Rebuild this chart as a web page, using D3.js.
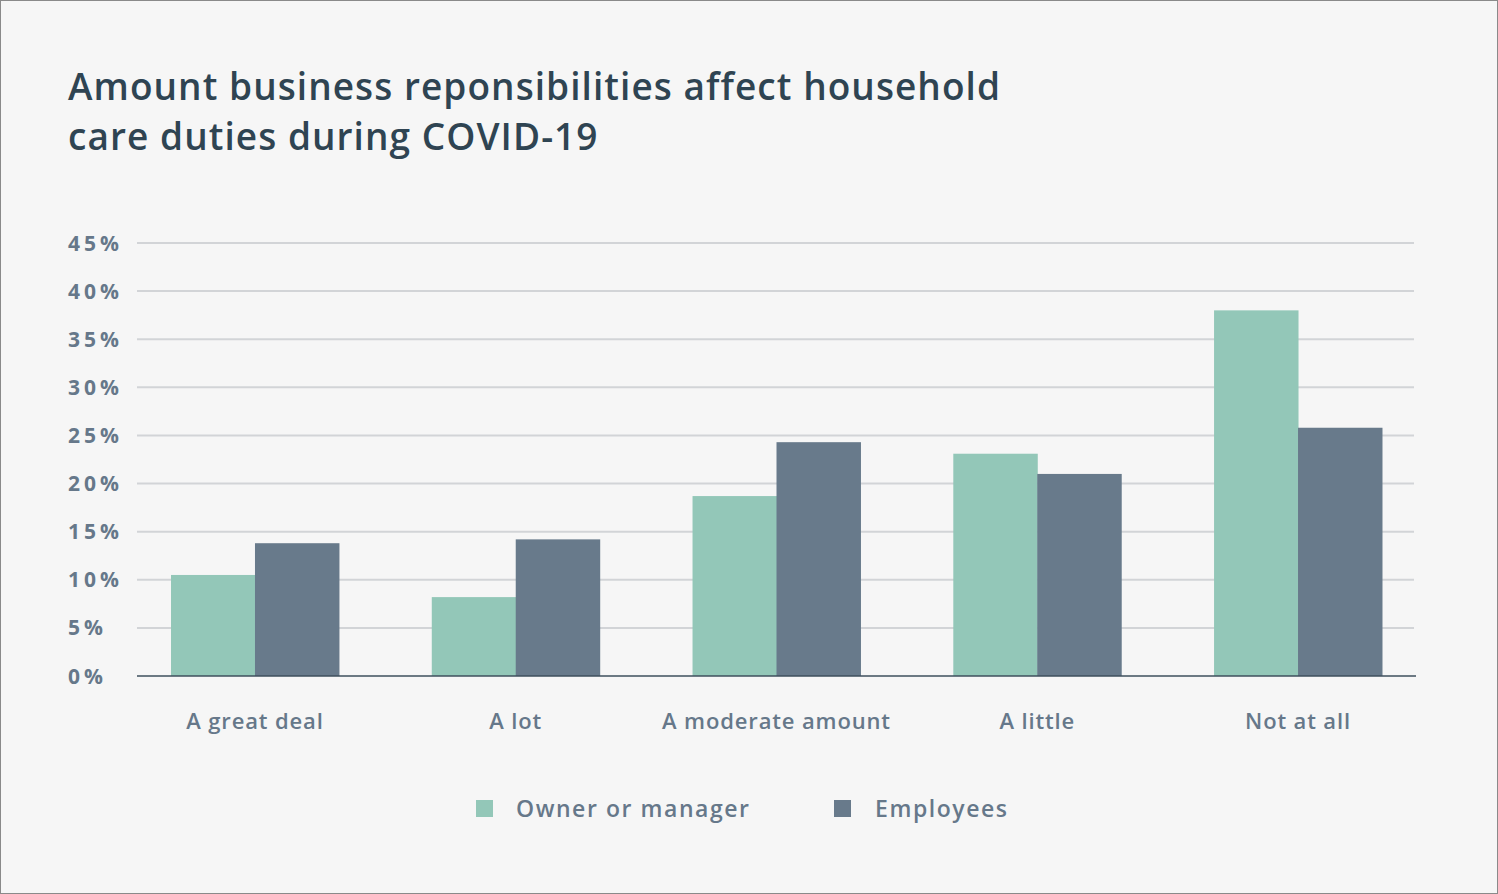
<!DOCTYPE html>
<html><head><meta charset="utf-8">
<script src="https://cdn.jsdelivr.net/npm/d3@7"></script>
<style>
html,body{margin:0;padding:0;background:#f6f6f6;}
svg{display:block;}
text{font-family:"Open Sans","Lato",sans-serif;}
</style></head>
<body>
<svg id="chart" width="1498" height="894"></svg>
<script>
const categories = ["A great deal","A lot","A moderate amount","A little","Not at all"];
const seriesNames = ["Owner or manager","Employees"];
const ownerValues = [10.5, 8.2, 18.7, 23.1, 38.0];
const employeeValues = [13.8, 14.2, 24.3, 21.0, 25.8];
const yTicks = [0,5,10,15,20,25,30,35,40,45];
const colors = ["#93c7b8","#687a8b"];
const titleLines = ["Amount business reponsibilities affect household","care duties during COVID-19"];

const svg = d3.select("#chart");
svg.append("rect").attr("x",0.5).attr("y",0.5).attr("width",1497).attr("height",893)
  .attr("fill","#f6f6f6").attr("stroke","#8a8a8a").attr("stroke-width",1);

// letter-spacing fitting helper: fit reference node to target width, apply to all in selection
function fitSpacing(sel, refNode, target){
  const w = refNode.getComputedTextLength();
  const n = refNode.textContent.length;
  const ls = (target - w) / Math.max(1, n - 1);
  sel.attr("letter-spacing", ls);
}

const title = svg.append("g");
const tLines = title.selectAll("text").data(titleLines).join("text")
  .attr("x",68).attr("y",(d,i)=>100 + i*50)
  .attr("fill","#2f4452").attr("font-size",37).attr("font-weight",600)
  .text(d=>d);
fitSpacing(tLines, tLines.nodes()[0], 932);

const y = d3.scaleLinear().domain([0,45]).range([676,243]);
const x0 = d3.scaleBand().domain(categories).range([124.6,1428.4]).paddingInner(0.356).paddingOuter(0.178);
const x1 = d3.scaleBand().domain(seriesNames).range([0,x0.bandwidth()]);

// gridlines
svg.append("g").selectAll("line").data(yTicks.filter(t=>t>0)).join("line")
  .attr("x1",137).attr("x2",1414).attr("y1",d=>y(d)).attr("y2",d=>y(d))
  .attr("stroke","#d2d4d7").attr("stroke-width",2);

// y labels
const yl = svg.append("g").selectAll("text").data(yTicks).join("text")
  .attr("x",68).attr("y",d=>y(d)).attr("dy","0.36em")
  .attr("fill","#66788a").attr("font-size",21).attr("font-weight",700)
  .text(d=>d+"%");
fitSpacing(yl, yl.nodes()[9], 51);

// bars
const rows = categories.map((c,i)=>({cat:c, vals:[ownerValues[i], employeeValues[i]]}));
const g = svg.append("g").selectAll("g").data(rows).join("g")
  .attr("transform",d=>`translate(${x0(d.cat)},0)`);
g.selectAll("rect").data(d=>d.vals.map((v,j)=>({s:seriesNames[j],v,j}))).join("rect")
  .attr("x",d=>x1(d.s)).attr("width",x1.bandwidth()+0.5)
  .attr("y",d=>y(d.v)).attr("height",d=>y(0)-y(d.v))
  .attr("fill",d=>colors[d.j]);

// axis line
svg.append("line").attr("x1",137).attr("x2",1416).attr("y1",y(0)).attr("y2",y(0))
  .attr("stroke","#3e4f5c").attr("stroke-width",1.5);

// x labels
const xl = svg.append("g").selectAll("text").data(categories).join("text")
  .attr("y",721).attr("dy","0.36em")
  .attr("fill","#66788a").attr("font-size",22).attr("font-weight",600)
  .text(d=>d);
fitSpacing(xl, xl.nodes()[2], 228);
xl.each(function(d){
  const w = this.getComputedTextLength();
  d3.select(this).attr("x", x0(d)+x0.bandwidth()/2 - w/2);
});

// legend
const legendX = [476,834];
const lg = svg.append("g").selectAll("g").data(seriesNames).join("g")
  .attr("transform",(d,i)=>`translate(${legendX[i]},800)`);
lg.append("rect").attr("width",17).attr("height",17).attr("fill",(d,i)=>colors[i]);
const lt = lg.append("text").attr("x",(d,i)=>i===0?40:41).attr("y",9).attr("dy","0.36em")
  .attr("fill","#66788a").attr("font-size",23).attr("font-weight",600)
  .text(d=>d);
fitSpacing(lt, lt.nodes()[0], 233);
</script>
</body></html>
